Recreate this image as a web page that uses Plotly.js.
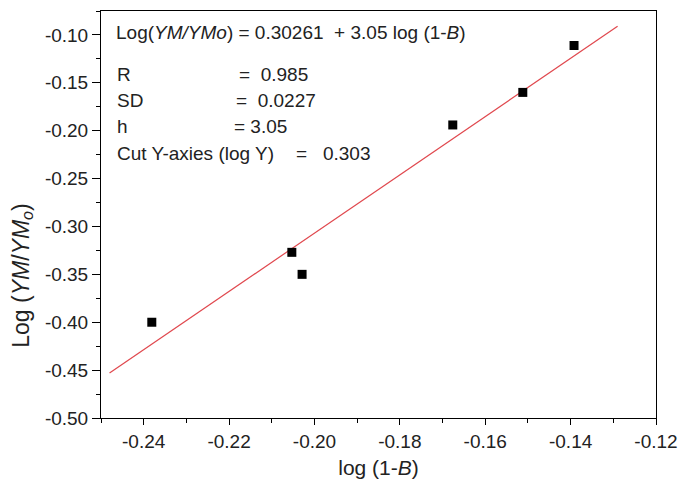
<!DOCTYPE html>
<html>
<head>
<meta charset="utf-8">
<script src="https://cdn.plot.ly/plotly-3.0.1.min.js"></script>
<style>html,body{margin:0;padding:0;background:#fff;}#chart{width:679px;height:483px;}</style>
</head>
<body>
<div id="chart"></div>
<script>
// Data
const logOneMinusB = [-0.2381, -0.2053, -0.2029, -0.1676, -0.1512, -0.1392];
const logYMratio   = [-0.400, -0.327, -0.350, -0.194, -0.160, -0.111];
const fitX = [-0.248, -0.129];
const fitY = [-0.453, -0.091];
const xTickVals = [-0.24, -0.22, -0.20, -0.18, -0.16, -0.14, -0.12];
const xTickText = ["-0.24", "-0.22", "-0.20", "-0.18", "-0.16", "-0.14", "-0.12"];
const yTickVals = [-0.50, -0.45, -0.40, -0.35, -0.30, -0.25, -0.20, -0.15, -0.10];
const yTickText = ["-0.50", "-0.45", "-0.40", "-0.35", "-0.30", "-0.25", "-0.20", "-0.15", "-0.10"];
const statLabels = ["R", "SD", "h", "Cut Y-axies (log Y)"];
const statValues = ["=  0.985", "=  0.0227", "= 3.05", "=   0.303"];

const FONT = "Liberation Sans, Arial, sans-serif";
const TXT = "#222222";

const traces = [
  {
    x: fitX, y: fitY, type: "scatter", mode: "lines",
    line: {color: "#e0484e", width: 1.2}, hoverinfo: "skip", showlegend: false
  },
  {
    x: logOneMinusB, y: logYMratio, type: "scatter", mode: "markers",
    marker: {symbol: "square", size: 9, color: "#000000"}, showlegend: false
  }
];

const statY = [0.843, 0.781, 0.717, 0.649];
const statValX = [0.245, 0.240, 0.236, 0.347];
const annotations = [
  {
    xref: "paper", yref: "paper", x: 0.024, y: 0.948, xanchor: "left", yanchor: "middle",
    text: "Log(<i>YM/YMo</i>) = 0.30261  + 3.05 log (1-<i>B</i>)", showarrow: false,
    font: {family: FONT, size: 19, color: TXT}
  },
  {
    xref: "paper", yref: "paper", x: -0.142, y: 0.35, xanchor: "center", yanchor: "middle",
    textangle: -90, showarrow: false,
    text: "Log (<i>YM</i>/<i>YM<sub>o</sub></i>)", font: {family: FONT, size: 23, color: TXT}
  }
];
statLabels.forEach((s, i) => {
  annotations.push({
    xref: "paper", yref: "paper", x: 0.026, y: statY[i], xanchor: "left", yanchor: "middle",
    text: s, showarrow: false, font: {family: FONT, size: 19, color: TXT}
  });
  annotations.push({
    xref: "paper", yref: "paper", x: statValX[i], y: statY[i], xanchor: "left", yanchor: "middle",
    text: statValues[i].replace(/ /g, "\u00a0"), showarrow: false, font: {family: FONT, size: 19, color: TXT}
  });
});

const layout = {
  width: 679, height: 483,
  margin: {l: 101, r: 23, t: 11, b: 65},
  paper_bgcolor: "#ffffff", plot_bgcolor: "#ffffff",
  font: {family: FONT, size: 19, color: TXT},
  showlegend: false,
  xaxis: {
    range: [-0.25, -0.12], showgrid: false, zeroline: false,
    showline: true, linecolor: "#000", linewidth: 1, mirror: true,
    ticks: "outside", ticklen: 6, tickcolor: "#000", tickwidth: 1,
    tickvals: xTickVals, ticktext: xTickText,
    minor: {dtick: 0.01, ticks: "outside", ticklen: 4, tickcolor: "#000"},
    tickfont: {family: FONT, size: 19, color: TXT},
    title: {text: "log (1-<i>B</i>)", font: {family: FONT, size: 21, color: TXT}, standoff: 9}
  },
  yaxis: {
    range: [-0.50, -0.075], showgrid: false, zeroline: false,
    showline: true, linecolor: "#000", linewidth: 1, mirror: true,
    ticks: "outside", ticklen: 8, tickcolor: "#000", tickwidth: 1,
    tickvals: yTickVals, ticktext: yTickText,
    minor: {dtick: 0.025, ticks: "outside", ticklen: 4, tickcolor: "#000"},
    tickfont: {family: FONT, size: 19, color: TXT}
  },
  annotations: annotations
};

Plotly.newPlot("chart", traces, layout, {displayModeBar: false, staticPlot: true});
</script>
</body>
</html>
